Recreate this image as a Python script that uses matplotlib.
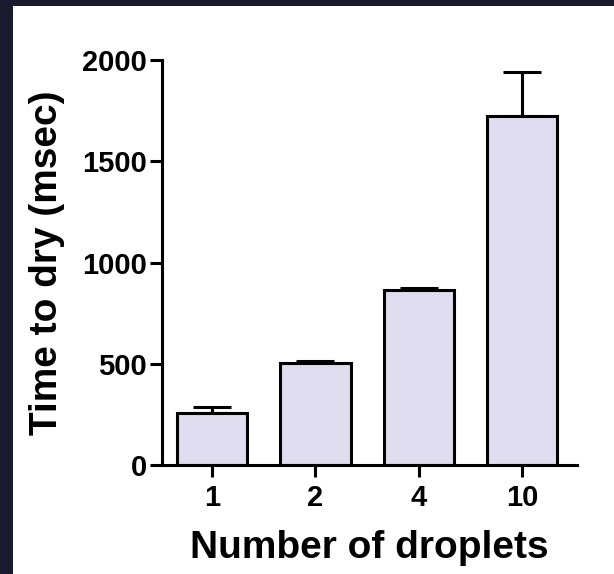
import matplotlib
matplotlib.use("Agg")
import matplotlib.pyplot as plt
from matplotlib.patches import Rectangle

categories = ["1", "2", "4", "10"]
time_ms = [257, 504, 862, 1723]
err_ms = [29, 12, 12, 218]

BG = "#191a2e"
FILL = "#dedcee"

plt.rcParams["font.family"] = ["Liberation Sans", "DejaVu Sans"]
plt.rcParams["font.weight"] = "bold"

fig = plt.figure(figsize=(6.14, 5.74), dpi=100)
fig.patch.set_facecolor(BG)
# white panel (the framed picture)
fig.patches.append(Rectangle((13 / 614, 0), 1, 1 - 6 / 574, transform=fig.transFigure,
                             facecolor="white", edgecolor="none", zorder=-5))

ax = fig.add_axes([162 / 614, 109 / 574, 415 / 614, 405 / 574])
ax.set_facecolor("none")

x = range(len(categories))
ax.bar(x, time_ms, width=0.68, color=FILL, edgecolor="black", linewidth=2.2, zorder=2)
ax.errorbar(x, time_ms, yerr=[[0] * len(err_ms), err_ms], fmt="none", ecolor="black",
            elinewidth=2.2, capsize=13.5, capthick=2.2, zorder=1)

ax.set_xlim(-0.484, 3.53)
ax.set_ylim(0, 2000)
ax.set_yticks([0, 500, 1000, 1500, 2000])
ax.set_xticks(list(x))
ax.set_xticklabels(categories)

for s in ["top", "right"]:
    ax.spines[s].set_visible(False)
for s in ["left", "bottom"]:
    ax.spines[s].set_linewidth(2.2)

ax.tick_params(axis="y", length=9, width=2.2, pad=2, labelsize=21)
ax.tick_params(axis="x", length=8.5, width=2.2, pad=5, labelsize=21)
for lab in ax.get_xticklabels() + ax.get_yticklabels():
    lab.set_fontweight("bold")

ax.set_xlabel("Number of droplets", fontsize=28, fontweight="bold", labelpad=13)
ax.set_ylabel("Time to dry (msec)", fontsize=28, fontweight="bold", labelpad=12)

fig.savefig("out.png", dpi=100, facecolor=fig.get_facecolor())
